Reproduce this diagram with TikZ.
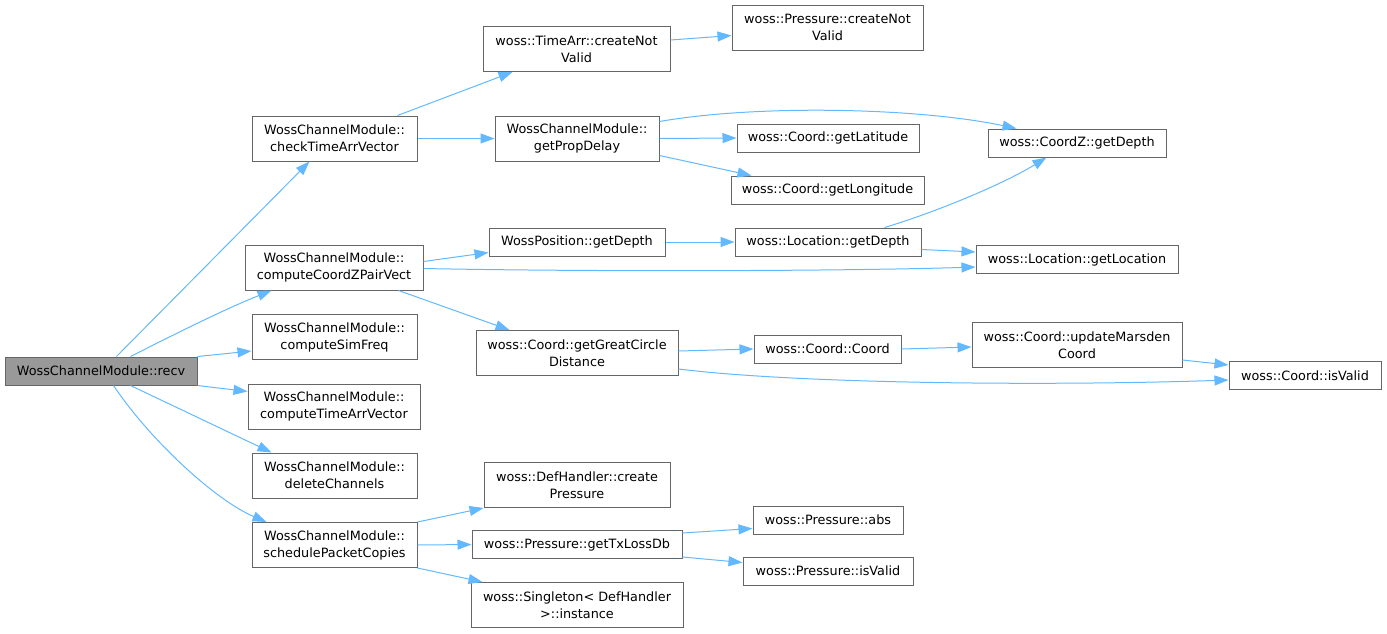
\documentclass[tikz,border=0pt]{standalone}
\usepackage{fontspec}
\setmainfont{DejaVu Sans}
\usetikzlibrary{arrows.meta,calc}
\definecolor{edgeblue}{HTML}{63B8FF}
\definecolor{boxgray}{HTML}{666666}
\definecolor{fillgray}{HTML}{999999}
\begin{document}
\begin{tikzpicture}[x=1pt,y=-1pt,
  box/.style={draw=boxgray,line width=1pt,fill=white,inner sep=0pt,minimum height=28pt,align=center,font=\fontsize{12.8}{17}\selectfont},
  box2/.style={box,minimum height=45pt},
  root/.style={box,fill=fillgray},
  edge/.style={draw=edgeblue,line width=1pt,-{Triangle[length=14pt,width=10pt]}}]
\useasboundingbox (0,0) rectangle (1387,633);
% column 0
\node[root,minimum width=192pt] (recv) at (101,371) {WossChannelModule::recv};
% column 1
\node[box2,minimum width=165pt] (check) at (334.5,138.5) {WossChannelModule::\\checkTimeArrVector};
\node[box2,minimum width=178pt] (cczpv) at (334,267.5) {WossChannelModule::\\computeCoordZPairVect};
\node[box2,minimum width=165pt] (sim) at (334.5,337) {WossChannelModule::\\computeSimFreq};
\node[box2,minimum width=172pt] (ctav) at (334,406.5) {WossChannelModule::\\computeTimeArrVector};
\node[box2,minimum width=165pt] (del) at (334.5,475.5) {WossChannelModule::\\deleteChannels};
\node[box2,minimum width=165pt] (sched) at (334.5,545) {WossChannelModule::\\schedulePacketCopies};
% column 2
\node[box2,minimum width=187pt] (ta) at (576.5,49) {woss::TimeArr::createNot\\Valid};
\node[box2,minimum width=164pt] (gpd) at (577,138.5) {WossChannelModule::\\getPropDelay};
\node[box,minimum width=176pt] (wp) at (577,242) {WossPosition::getDepth};
\node[box2,minimum width=202pt] (gcd) at (577,353) {woss::Coord::getGreatCircle\\Distance};
\node[box2,minimum width=186pt] (cp) at (577,485) {woss::DefHandler::create\\Pressure};
\node[box,minimum width=210pt] (tx) at (577,544.5) {woss::Pressure::getTxLossDb};
\node[box2,minimum width=212pt] (sg) at (577,605) {woss::Singleton< DefHandler\\ >::instance};
% column 3
\node[box2,minimum width=191pt] (pcnv) at (827.5,27.5) {woss::Pressure::createNot\\Valid};
\node[box,minimum width=182pt] (lat) at (828,138) {woss::Coord::getLatitude};
\node[box,minimum width=193pt] (lon) at (827.5,190) {woss::Coord::getLongitude};
\node[box,minimum width=186pt] (lgd) at (828,242) {woss::Location::getDepth};
\node[box,minimum width=147pt] (coord) at (827.5,349) {woss::Coord::Coord};
\node[box,minimum width=150pt] (abs) at (828,520) {woss::Pressure::abs};
\node[box,minimum width=170pt] (piv) at (828,571) {woss::Pressure::isValid};
% column 4
\node[box,minimum width=178pt] (cz) at (1077,143) {woss::CoordZ::getDepth};
\node[box,minimum width=202pt] (gl) at (1077,259.5) {woss::Location::getLocation};
\node[box2,minimum width=210pt] (um) at (1077,345) {woss::Coord::updateMarsden\\Coord};
% column 5
\node[box,minimum width=152pt] (iv) at (1305,375.5) {woss::Coord::isValid};
% edges from recv
\draw[edge] ($(recv.north west)+(112,0)$) -- ($(check.south west)+(58,0)$);
\draw[edge] ($(recv.north west)+(126,0)$) .. controls (175,334) and (225,309) .. ($(cczpv.south west)+(27,0)$);
\draw[edge] (recv.north east) -- ($(sim.south west)+(0,-9)$);
\draw[edge] (recv.south east) -- ($(ctav.north west)+(0,8)$);
\draw[edge] ($(recv.south west)+(126,0)$) -- ($(del.north west)+(20,0)$);
\draw[edge] ($(recv.south west)+(109,0)$) .. controls (150,440) and (215,500) .. ($(sched.north west)+(15,0)$);
% edges from check
\draw[edge] ($(check.north east)+(-20,0)$) -- ($(ta.south west)+(30,0)$);
\draw[edge] (check.east) -- (gpd.west);
\draw[edge] ($(ta.north east)+(0,14)$) -- ($(pcnv.north west)+(0,31)$);
% edges from gpd
\draw[edge] ($(gpd.north east)+(0,6)$) .. controls (760,104) and (920,108) .. ($(cz.north west)+(29,0)$);
\draw[edge] (gpd.east) -- (lat.west);
\draw[edge] ($(gpd.south east)+(0,-6)$) -- ($(lon.north west)+(21,0)$);
% edges from cczpv
\draw[edge] ($(cczpv.north east)+(0,17)$) -- ($(wp.south west)+(0,-4)$);
\draw[edge] ($(cczpv.north east)+(0,24)$) .. controls (600,272) and (850,271) .. ($(gl.south west)+(0,-7)$);
\draw[edge] ($(cczpv.south east)+(-25,0)$) -- ($(gcd.north west)+(34,0)$);
\draw[edge] (wp.east) -- (lgd.west);
\draw[edge] ($(lgd.north east)+(-37,0)$) .. controls (930,214) and (1000,186) .. ($(cz.south west)+(59,0)$);
\draw[edge] ($(lgd.south east)+(0,-7)$) -- ($(gl.north west)+(0,7)$);
% edges from gcd
\draw[edge] ($(gcd.east)+(0,-2)$) -- (coord.west);
\draw[edge] ($(gcd.south east)+(0,-7)$) .. controls (800,384) and (1050,386) .. ($(iv.south west)+(0,-10)$);
\draw[edge] (coord.east) -- ($(um.west)+(0,2)$);
\draw[edge] ($(um.south east)+(0,-8)$) -- ($(iv.north west)+(0,4)$);
% edges from sched
\draw[edge] (sched.north east) -- (cp.south west);
\draw[edge] (sched.east) -- (tx.west);
\draw[edge] (sched.south east) -- ($(sg.north west)+(12,0)$);
\draw[edge] ($(tx.north east)+(0,3)$) -- ($(abs.south west)+(0,-6)$);
\draw[edge] ($(tx.south east)+(0,-2)$) -- ($(piv.north west)+(0,6)$);
\end{tikzpicture}
\end{document}
